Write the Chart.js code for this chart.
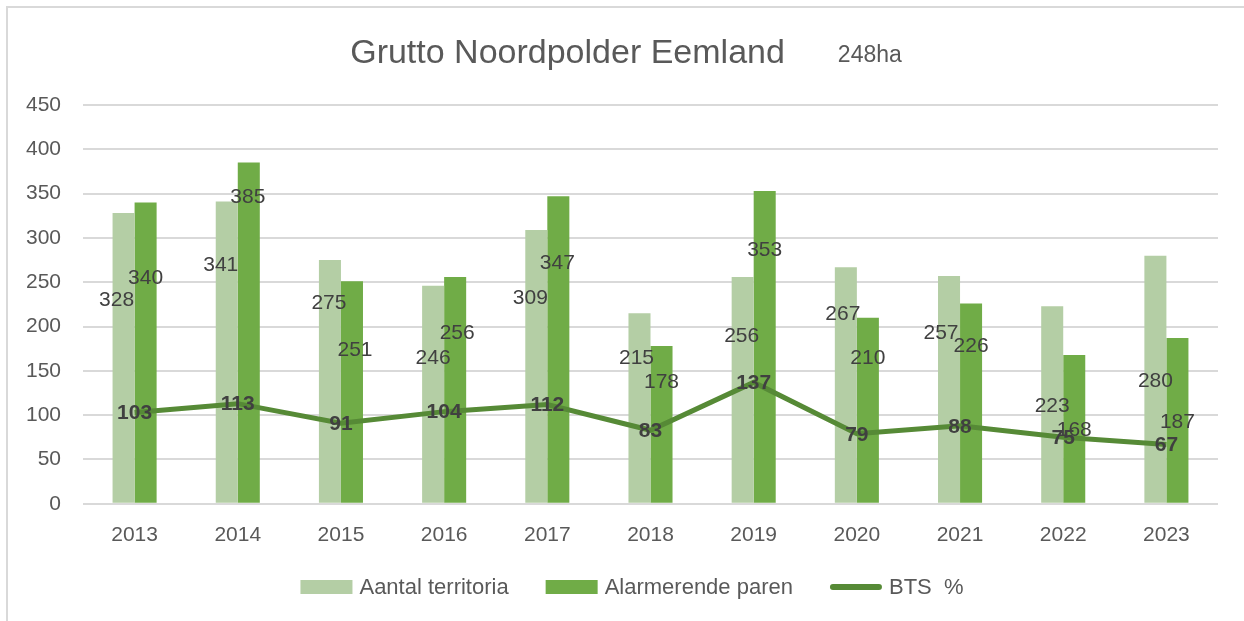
<!DOCTYPE html>
<html>
<head>
<meta charset="utf-8">
<script src="https://cdn.jsdelivr.net/npm/chart.js"></script>
<style>
  html, body { margin: 0; padding: 0; background: #fff; }
  #wrap { width: 1244px; height: 621px; }
</style>
</head>
<body>
<div id="wrap"><canvas id="grutto" width="1244" height="621"></canvas></div>
<script>
// gegevens
const jaren = ['2013', '2014', '2015', '2016', '2017', '2018', '2019', '2020', '2021', '2022', '2023'];
const territoria = [328, 341, 275, 246, 309, 215, 256, 267, 257, 223, 280];
const paren = [340, 385, 251, 256, 347, 178, 353, 210, 226, 168, 187];
const bts = [103, 113, 91, 104, 112, 83, 137, 79, 88, 75, 67];
const yTicks = [0, 50, 100, 150, 200, 250, 300, 350, 400, 450];

// verschuiving van de labels (px) t.o.v. de top van de staaf, zoals in het origineel versleept
const offTerritoria = [[-7, 87], [-6, 64], [-1, 43], [0, 72], [-6, 68], [-3, 45], [-1, 59], [-3, 47], [-8, 57], [0, 100], [0, 126]];
const offParen = [[0, 76], [-1, 35], [3, 69], [2, 56], [-1, 67], [0, 36], [0, 59], [0, 41], [0, 43], [0, 75], [0, 84]];

const FONT = "'Liberation Sans', Arial, sans-serif";
const kleurLicht = '#b4cea5';
const kleurDonker = '#70ac47';
const kleurLijn = '#568a36';
const grijs = '#595959';

Chart.defaults.font.family = FONT;
Chart.defaults.color = grijs;

// kader, titel, labels en legenda
const tekenPlugin = {
  id: 'teken',
  beforeDraw(chart) {
    const ctx = chart.ctx;
    ctx.save();
    ctx.fillStyle = '#fff';
    ctx.fillRect(0, 0, chart.width, chart.height);
    ctx.strokeStyle = '#d9d9d9';
    ctx.lineWidth = 2;
    ctx.beginPath();
    ctx.moveTo(7, chart.height);
    ctx.lineTo(7, 7);
    ctx.lineTo(chart.width, 7);
    ctx.stroke();
    ctx.restore();
  },
  afterDatasetsDraw(chart) {
    const ctx = chart.ctx;
    ctx.save();
    ctx.textAlign = 'center';
    ctx.textBaseline = 'middle';
    ctx.fillStyle = '#404040';
    ctx.font = '21px ' + FONT;
    chart.getDatasetMeta(0).data.forEach((bar, i) => {
      ctx.fillText(territoria[i], bar.x + offTerritoria[i][0], bar.y + offTerritoria[i][1]);
    });
    chart.getDatasetMeta(1).data.forEach((bar, i) => {
      ctx.fillText(paren[i], bar.x + offParen[i][0], bar.y + offParen[i][1]);
    });
    ctx.font = 'bold 21px ' + FONT;
    chart.getDatasetMeta(2).data.forEach((pt, i) => {
      ctx.fillText(bts[i], pt.x, pt.y + 1);
    });
    ctx.restore();
  },
  afterDraw(chart) {
    const ctx = chart.ctx;
    ctx.save();
    // titel
    ctx.fillStyle = grijs;
    ctx.textBaseline = 'alphabetic';
    ctx.textAlign = 'left';
    ctx.font = '34px ' + FONT;
    const t1 = 'Grutto Noordpolder Eemland';
    const w1 = ctx.measureText(t1).width;
    ctx.font = '23px ' + FONT;
    const t2 = '248ha';
    const w2 = ctx.measureText(t2).width;
    const gap = 53;
    let x = chart.width / 2 + 4 - (w1 + gap + w2) / 2;
    ctx.font = '34px ' + FONT;
    ctx.fillText(t1, x, 63);
    ctx.font = '23px ' + FONT;
    ctx.fillText(t2, x + w1 + gap, 62);

    // legenda
    ctx.font = '22px ' + FONT;
    ctx.textBaseline = 'middle';
    const items = chart.data.datasets.map(ds => ({ tekst: ds.label, kleur: ds.borderColor, lijn: ds.type === 'line' }));
    const sw = 52, tussen = 7, itemGap = 37;
    let totaal = 0;
    items.forEach((it, i) => {
      it.w = ctx.measureText(it.tekst).width;
      totaal += sw + tussen + it.w + (i < items.length - 1 ? itemGap : 0);
    });
    const ly = 587;
    x = chart.width / 2 + 10 - totaal / 2;
    items.forEach(it => {
      if (it.lijn) {
        ctx.strokeStyle = it.kleur;
        ctx.lineWidth = 6;
        ctx.lineCap = 'round';
        ctx.beginPath();
        ctx.moveTo(x + 3, ly);
        ctx.lineTo(x + sw - 3, ly);
        ctx.stroke();
      } else {
        ctx.fillStyle = it.kleur;
        ctx.fillRect(x, ly - 7, sw, 14);
      }
      ctx.fillStyle = grijs;
      ctx.fillText(it.tekst, x + sw + tussen, ly + 1);
      x += sw + tussen + it.w + itemGap;
    });
    ctx.restore();
  }
};

new Chart(document.getElementById('grutto'), {
  type: 'bar',
  data: {
    labels: jaren,
    datasets: [
      {
        label: 'Aantal territoria',
        data: territoria,
        backgroundColor: kleurLicht,
        borderColor: kleurLicht,
        borderWidth: 0,
        order: 1
      },
      {
        label: 'Alarmerende paren',
        data: paren,
        backgroundColor: kleurDonker,
        borderColor: kleurDonker,
        borderWidth: 0,
        order: 2
      },
      {
        type: 'line',
        label: 'BTS  %',
        data: bts,
        borderColor: kleurLijn,
        backgroundColor: kleurLijn,
        borderWidth: 5,
        pointRadius: 0,
        tension: 0,
        order: 0
      }
    ]
  },
  options: {
    responsive: false,
    animation: false,
    categoryPercentage: 0.427,
    barPercentage: 1,
    layout: { padding: { top: 105, right: 26, bottom: 54, left: 0 } },
    plugins: {
      legend: { display: false },
      title: { display: false },
      tooltip: { enabled: false }
    },
    scales: {
      x: {
        grid: { display: false, drawTicks: false },
        border: { display: false },
        ticks: { font: { size: 21 }, color: grijs, padding: 19 }
      },
      y: {
        min: 0,
        max: 450,
        afterBuildTicks: s => { s.ticks = yTicks.map(v => ({ value: v })); },
        afterFit: s => { s.width = 83; },
        grid: { color: '#d9d9d9', lineWidth: 2, drawTicks: false },
        border: { display: false },
        ticks: { font: { size: 21 }, color: grijs, padding: 22 }
      }
    }
  },
  plugins: [tekenPlugin]
});
</script>
</body>
</html>
